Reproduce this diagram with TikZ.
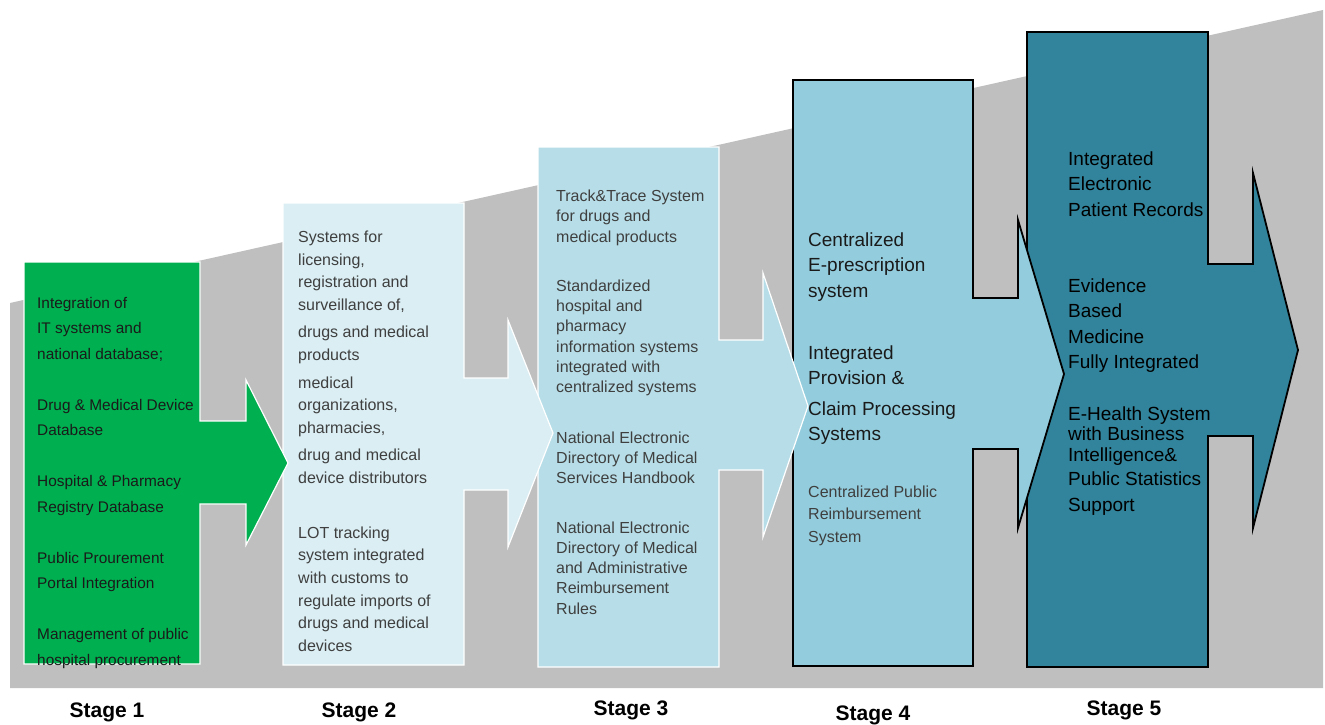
\documentclass[tikz,border=0pt]{standalone}
\usepackage{fontspec}
\setmainfont{Liberation Sans}
\definecolor{bggray}{HTML}{BFBFBF}
\definecolor{stageone}{HTML}{00B050}
\definecolor{stagetwo}{HTML}{DAEEF3}
\definecolor{stagethree}{HTML}{B7DEE8}
\definecolor{stagefour}{HTML}{93CDDD}
\definecolor{stagefive}{HTML}{31849B}
\definecolor{inkdark}{HTML}{1A1A1A}
\definecolor{inkgray}{HTML}{3F3F3F}

\begin{document}
\begin{tikzpicture}[x=1pt,y=-1pt,
 lite/.style={draw=white,line width=1.2,line join=miter},
 dark/.style={draw=black,line width=1.8,line join=miter},
 txt/.style={anchor=north west,inner sep=0pt,align=left},
 stagelabel/.style={font=\fontsize{21}{24}\selectfont\bfseries,text=black}]
\useasboundingbox (0,0) rectangle (1325,725);
% rising grey backdrop
\fill[bggray] (10,303) -- (1323,10) -- (1323,688) -- (10,688) -- cycle;
% box + arrow of each stage, last one first so every tip lies on the next box
\draw[dark,fill=stagefive] (1027,32) -- (1208,32) -- (1208,264) -- (1253,264) -- (1253,173)
  -- (1298,350) -- (1253,528) -- (1253,436) -- (1208,436) -- (1208,667) -- (1027,667) -- cycle;
\draw[dark,fill=stagefour] (793,80) -- (973,80) -- (973,298) -- (1018,298) -- (1018,220)
  -- (1064,374) -- (1018,528) -- (1018,449) -- (973,449) -- (973,666) -- (793,666) -- cycle;
\draw[lite,fill=stagethree] (538,147) -- (719,147) -- (719,340) -- (763,340) -- (763,273)
  -- (808,406) -- (763,537) -- (763,470) -- (719,470) -- (719,667) -- (538,667) -- cycle;
\draw[lite,fill=stagetwo] (283,203) -- (464,203) -- (464,378) -- (508,378) -- (508,320)
  -- (553,433) -- (508,547) -- (508,490) -- (464,490) -- (464,665) -- (283,665) -- cycle;
\draw[lite,fill=stageone] (24,262) -- (200,262) -- (200,421) -- (246,421) -- (246,380)
  -- (288,463) -- (246,545) -- (246,504) -- (200,504) -- (200,664) -- (24,664) -- cycle;

% stage texts
\node[txt,text=inkdark,font=\fontsize{15.4}{25.5}\selectfont] (s1text) at (37,296.8)
  {Integration of\\IT systems and\\national database;\\[25.5pt]Drug \& Medical Device\\Database\\[25.5pt]Hospital \& Pharmacy\\Registry Database\\[25.5pt]Public Prourement\\Portal Integration\\[25.5pt]Management of public\\hospital procurement};
\node[txt,text=inkgray,font=\fontsize{16}{22.7}\selectfont] (s2text) at (298,230.6)
  {Systems for\\licensing,\\registration and\\surveillance of,\\[4.5pt]drugs and medical\\products\\[5pt]medical\\organizations,\\pharmacies,\\[4.5pt]drug and medical\\device distributors\\[32pt]LOT tracking\\system integrated\\with customs to\\regulate imports of\\drugs and medical\\devices};
\node[txt,text=inkgray,font=\fontsize{16}{20.3}\selectfont] (s3text) at (556,189.6)
  {Track\&Trace System\\for drugs and\\medical products\\[29pt]Standardized\\hospital and\\pharmacy\\information systems\\integrated with\\centralized systems\\[30pt]National Electronic\\Directory of Medical\\Services Handbook\\[29pt]National Electronic\\Directory of Medical\\and Administrative\\Reimbursement\\Rules};
\node[txt,text=inkdark,font=\fontsize{19}{25.5}\selectfont] (s4text) at (808,232.4)
  {Centralized\\E-prescription\\system\\[36.5pt]Integrated\\Provision \&\\[5pt]Claim Processing\\Systems};
\node[txt,text=inkgray,font=\fontsize{16}{22.5}\selectfont] (s4note) at (808,485.6)
  {Centralized Public\\Reimbursement\\System};
\node[txt,text=black,font=\fontsize{19}{25.5}\selectfont] (s5text) at (1068,151.4)
  {Integrated\\Electronic\\Patient Records\\[50.5pt]Evidence\\Based\\Medicine\\Fully Integrated\\[26.5pt]E-Health System\\[-5.5pt]with Business\\[-4.5pt]Intelligence\&\\[-1.5pt]Public Statistics\\Support};

% stage captions
\foreach \xpos/\ypos/\n in {107/712/1,359/712/2,631/710/3,873/715/4,1124/710/5}
  \node[stagelabel] (stage\n) at (\xpos,\ypos) {Stage \n};
\end{tikzpicture}
\end{document}
